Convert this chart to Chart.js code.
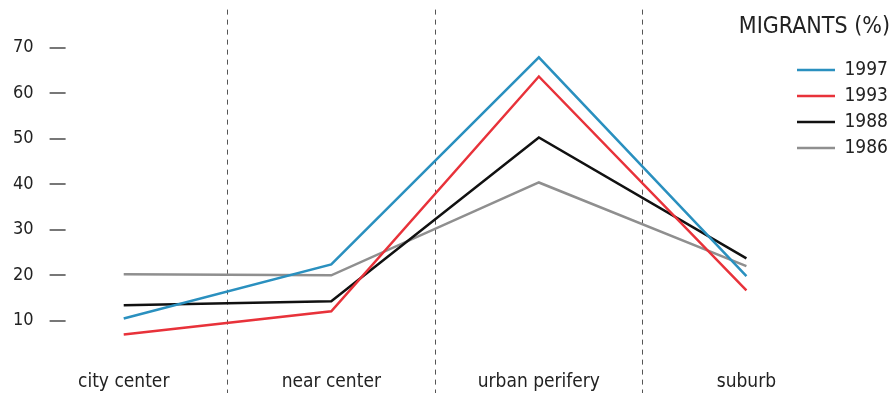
<!DOCTYPE html>
<html>
<head>
<meta charset="utf-8">
<script src="https://cdn.jsdelivr.net/npm/chart.js@4/dist/chart.umd.min.js"></script>
<style>
  html, body { margin: 0; padding: 0; background: #fff; }
  #wrap { width: 895px; height: 394px; }
</style>
</head>
<body>
<div id="wrap"><canvas id="chart" width="895" height="394"></canvas></div>
<script>
const categories = ["city center", "near center", "urban perifery", "suburb"];
const years = ["1997", "1993", "1988", "1986"];
const migrants1997 = [10.5, 22.4, 67.9, 19.8];
const migrants1993 = [7.0, 12.1, 63.7, 16.7];
const migrants1988 = [13.4, 14.3, 50.3, 23.7];
const migrants1986 = [20.2, 20.0, 40.4, 22.0];
const yTicks = [10, 20, 30, 40, 50, 60, 70];

const FONT = "'DejaVu Sans Condensed', 'DejaVu Sans', sans-serif";
const colors = ["#2a90bf", "#e8323a", "#111111", "#8f8f8f"];
const series = [migrants1997, migrants1993, migrants1988, migrants1986];

// x is linear so the first category can sit away from the y ticks
const toPoints = vals => vals.map((v, i) => ({ x: i, y: v }));

const ctx = document.getElementById('chart').getContext('2d');
new Chart(ctx, {
  type: 'line',
  data: {
    datasets: series.map((s, k) => ({
      label: years[k],
      data: toPoints(s),
      borderColor: colors[k],
      backgroundColor: colors[k],
      borderWidth: 2.5,
      pointRadius: 0,
      tension: 0
    }))
  },
  options: {
    responsive: false,
    animation: false,
    layout: { padding: { left: 13, right: 5, top: 0, bottom: 0 } },
    plugins: {
      tooltip: { enabled: false },
      title: {
        display: true,
        text: 'MIGRANTS (%)',
        align: 'end',
        color: '#222',
        font: { family: FONT, size: 23, weight: 'normal' },
        padding: { top: 13, bottom: -31 }
      },
      legend: {
        position: 'right',
        align: 'start',
        maxWidth: 100,
        title: {
          display: true,
          text: '',
          padding: { top: 39, bottom: 0 }
        },
        labels: {
          usePointStyle: true,
          pointStyle: 'line',
          pointStyleWidth: 38,
          padding: 7,
          color: '#222',
          font: { family: FONT, size: 19 }
        }
      }
    },
    scales: {
      x: {
        type: 'linear',
        min: -0.28,
        max: 3.21,
        afterBuildTicks: axis => {
          const t = [];
          categories.forEach((c, i) => {
            t.push({ value: i });
            if (i < categories.length - 1) t.push({ value: i + 0.5 });
          });
          axis.ticks = t;
        },
        ticks: {
          autoSkip: false,
          maxRotation: 0,
          mirror: true,
          padding: 0,
          color: '#222',
          font: { family: FONT, size: 19 },
          callback: v => Number.isInteger(v) ? categories[v] : ''
        },
        grid: {
          color: c => (c.tick && !Number.isInteger(c.tick.value)) ? '#555' : 'rgba(0,0,0,0)',
          lineWidth: 1,
          drawTicks: false
        },
        border: { display: false, dash: [5, 5] }
      },
      y: {
        min: -5.9,
        max: 78.4,
        afterBuildTicks: axis => { axis.ticks = yTicks.map(v => ({ value: v })); },
        ticks: {
          padding: 0,
          color: '#222',
          // tiny lineHeight keeps the axis from padding the chart area
          font: { family: FONT, size: 18, lineHeight: 0.1 }
        },
        grid: {
          drawOnChartArea: false,
          color: '#777',
          lineWidth: 2,
          tickLength: 32,
          tickBorderDash: [0, 16, 16, 100]
        },
        border: { display: false }
      }
    }
  }
});
</script>
</body>
</html>
